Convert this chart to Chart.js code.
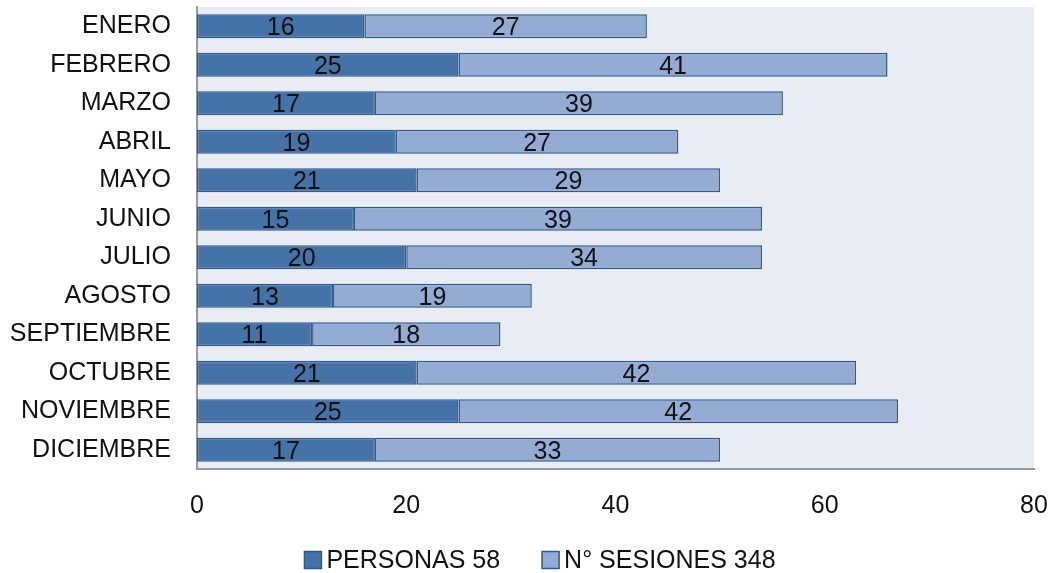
<!DOCTYPE html>
<html>
<head>
<meta charset="utf-8">
<script src="https://cdn.jsdelivr.net/npm/chart.js@4/dist/chart.umd.min.js"></script>
<style>
  body { margin: 0; background: #fff; }
  #wrap { width: 1054px; height: 573px; }
</style>
</head>
<body>
<div id="wrap"><canvas id="chart" width="1054" height="573"></canvas></div>
<script>
const months = ['ENERO', 'FEBRERO', 'MARZO', 'ABRIL', 'MAYO', 'JUNIO', 'JULIO',
  'AGOSTO', 'SEPTIEMBRE', 'OCTUBRE', 'NOVIEMBRE', 'DICIEMBRE'];
const personas = [16, 25, 17, 19, 21, 15, 20, 13, 11, 21, 25, 17];
const sesiones = [27, 41, 39, 27, 29, 39, 34, 19, 18, 42, 42, 33];
const xTicks = [0, 20, 40, 60, 80];

const FONT = '"Liberation Sans", Arial, sans-serif';
const FONT_SIZE = 25;
const TEXT = '#111';

// light panel behind the bars
const plotBackground = {
  id: 'plotBackground',
  beforeDraw(chart) {
    const { ctx, chartArea: a } = chart;
    ctx.save();
    ctx.fillStyle = '#e8ecf4';
    ctx.fillRect(a.left, a.top, a.right - a.left, a.bottom - a.top);
    ctx.restore();
  }
};

// value written in the middle of each segment
const segmentLabels = {
  id: 'segmentLabels',
  afterDatasetsDraw(chart) {
    const { ctx } = chart;
    ctx.save();
    ctx.font = FONT_SIZE + 'px ' + FONT;
    ctx.fillStyle = TEXT;
    ctx.textAlign = 'center';
    ctx.textBaseline = 'middle';
    chart.data.datasets.forEach((ds, i) => {
      chart.getDatasetMeta(i).data.forEach((bar, j) => {
        const mid = (bar.x + bar.base) / 2;
        ctx.fillText(String(ds.data[j]), mid, bar.y + 2);
      });
    });
    ctx.restore();
  }
};

// legend row under the axis, tight box-to-text spacing
const bottomLegend = {
  id: 'bottomLegend',
  afterDraw(chart) {
    const { ctx } = chart;
    const box = 17, gap = 5, spacing = 42, y = 560, center = 540;
    ctx.save();
    ctx.font = FONT_SIZE + 'px ' + FONT;
    const items = chart.data.datasets.map(ds => ({
      ds, w: ctx.measureText(ds.label).width
    }));
    const total = items.reduce((s, it) => s + box + gap + it.w, 0) + spacing * (items.length - 1);
    let x = center - total / 2;
    ctx.textBaseline = 'middle';
    ctx.textAlign = 'left';
    items.forEach(it => {
      ctx.fillStyle = it.ds.backgroundColor;
      ctx.fillRect(x, y - box / 2, box, box);
      ctx.strokeStyle = it.ds.borderColor;
      ctx.lineWidth = 1.5;
      ctx.strokeRect(x, y - box / 2, box, box);
      ctx.fillStyle = TEXT;
      ctx.fillText(it.ds.label, x + box + gap, y + 1);
      x += box + gap + it.w + spacing;
    });
    ctx.restore();
  }
};

new Chart(document.getElementById('chart'), {
  type: 'bar',
  data: {
    labels: months,
    datasets: [
      {
        label: 'PERSONAS 58',
        data: personas,
        backgroundColor: '#4572a7',
        borderColor: '#2f5a8c',
        borderWidth: 1.5,
        borderSkipped: false,
        barPercentage: 0.62,
        categoryPercentage: 1
      },
      {
        label: 'N° SESIONES 348',
        data: sesiones,
        backgroundColor: '#94abd3',
        borderColor: '#2f5a8c',
        borderWidth: 1.5,
        borderSkipped: false,
        barPercentage: 0.62,
        categoryPercentage: 1
      }
    ]
  },
  options: {
    indexAxis: 'y',
    responsive: false,
    animation: false,
    layout: {
      padding: { top: 7, right: 20, left: 0, bottom: 44 }
    },
    plugins: {
      legend: { display: false },
      tooltip: { enabled: false }
    },
    scales: {
      x: {
        stacked: true,
        min: 0,
        max: 80,
        afterBuildTicks(scale) {
          scale.ticks = xTicks.map(v => ({ value: v }));
        },
        afterFit(scale) {
          scale.height = 60;
          scale.paddingLeft = 0;
          scale.paddingRight = 0;
        },
        grid: { display: false, drawTicks: false },
        border: { display: true, color: '#999', width: 2 },
        ticks: {
          font: { family: FONT, size: FONT_SIZE },
          color: TEXT,
          padding: 22
        }
      },
      y: {
        stacked: true,
        afterFit(scale) {
          scale.width = 197;
          scale.paddingTop = 0;
          scale.paddingBottom = 0;
        },
        grid: { display: false, drawTicks: false },
        border: { display: true, color: '#999', width: 2 },
        ticks: {
          font: { family: FONT, size: FONT_SIZE },
          color: TEXT,
          padding: 26
        }
      }
    }
  },
  plugins: [plotBackground, segmentLabels, bottomLegend]
});
</script>
</body>
</html>
